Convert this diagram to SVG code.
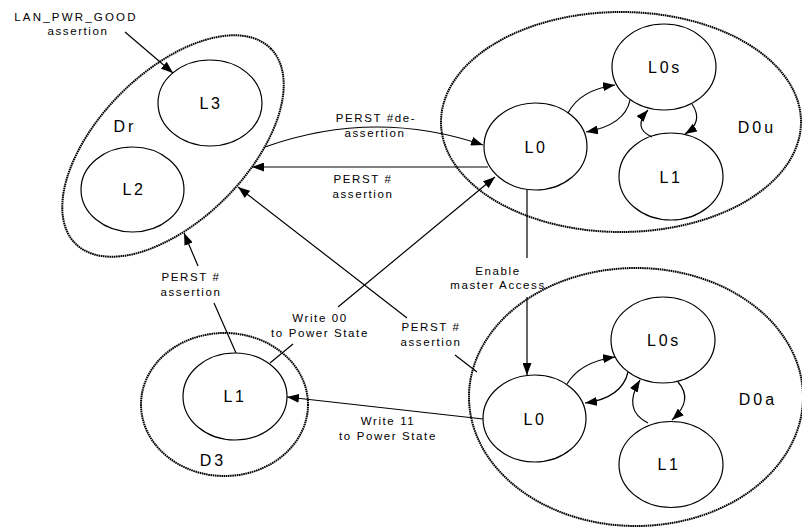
<svg xmlns="http://www.w3.org/2000/svg" width="802" height="527" viewBox="0 0 802 527">
<defs>
<marker id="ah" markerUnits="userSpaceOnUse" markerWidth="13" markerHeight="9" refX="12" refY="4.5" orient="auto">
<path d="M0,0 L12,4.5 L0,9 z" fill="#000"/>
</marker>
<style>
.st{fill:#fff;stroke:#000;stroke-width:1.2}
.grp{fill:none;stroke:#000;stroke-width:2;stroke-dasharray:1.6 0.6}
.c{fill:none;stroke:#000;stroke-width:1.2}
.a{marker-end:url(#ah)}
.nl{font-family:"Liberation Sans",Arial,sans-serif;font-size:16px;letter-spacing:2.7px;text-anchor:middle;fill:#000}
.gl{font-family:"Liberation Sans",Arial,sans-serif;font-size:16px;letter-spacing:3px;text-anchor:middle;fill:#000}
.lb{font-family:"Liberation Sans",Arial,sans-serif;font-size:11.5px;letter-spacing:1.6px;text-anchor:middle;fill:#000}
</style>
</defs>
<rect width="802" height="527" fill="#fff"/>

<g id="Dr">
<ellipse class="grp" cx="173" cy="146" rx="138" ry="74" transform="rotate(-45 173 146)"/>
<text class="gl" x="125" y="132">Dr</text>
</g>
<g id="Dr-L3">
<ellipse class="st" cx="210" cy="103" rx="52" ry="43"/>
<text class="nl" x="211" y="109">L3</text>
</g>
<g id="Dr-L2">
<ellipse class="st" cx="132.5" cy="189.5" rx="51.5" ry="42.5"/>
<text class="nl" x="134" y="195">L2</text>
</g>

<g id="D0u">
<ellipse class="grp" cx="621" cy="122" rx="180" ry="110"/>
<text class="gl" x="757" y="133">D0u</text>
</g>
<g id="D0u-L0">
<ellipse class="st" cx="535.5" cy="146.5" rx="51.5" ry="43.5"/>
<text class="nl" x="536" y="153">L0</text>
</g>
<g id="D0u-L0s">
<ellipse class="st" cx="664" cy="67" rx="52" ry="43"/>
<text class="nl" x="665" y="73">L0s</text>
</g>
<g id="D0u-L1">
<ellipse class="st" cx="671" cy="176.5" rx="52" ry="43.5"/>
<text class="nl" x="671" y="183">L1</text>
</g>

<g id="D0a">
<ellipse class="grp" cx="636" cy="397" rx="167" ry="129"/>
<text class="gl" x="758" y="405">D0a</text>
</g>
<g id="D0a-L0">
<ellipse class="st" cx="534.5" cy="418.5" rx="51.5" ry="43.5"/>
<text class="nl" x="535" y="425">L0</text>
</g>
<g id="D0a-L0s">
<ellipse class="st" cx="663" cy="340" rx="52" ry="43"/>
<text class="nl" x="664" y="346">L0s</text>
</g>
<g id="D0a-L1">
<ellipse class="st" cx="671" cy="464.5" rx="52" ry="43"/>
<text class="nl" x="669" y="470">L1</text>
</g>

<g id="D3">
<ellipse class="grp" cx="224.5" cy="404.5" rx="83.5" ry="71.5"/>
<text class="gl" x="213" y="466">D3</text>
</g>
<g id="D3-L1">
<ellipse class="st" cx="235" cy="396.5" rx="52" ry="43.5"/>
<text class="nl" x="235" y="402">L1</text>
</g>

<g id="connectors">
<path class="c a" d="M125 32 L173 73"/>
<path class="c a" d="M265 147 Q374 108 483 145"/>
<path class="c a" d="M488 167 L252 167"/>
<path class="c a" d="M527 190 V258 M527 297 V375"/>
<path class="c a" d="M477 372 L455 355 M407 318 L238 187"/>
<path class="c a" d="M236 353 L214 303 M198 266 L184 233"/>
<path class="c a" d="M270 363 L293 344 M338 307 L495 177"/>
<path class="c a" d="M483 419 L287 397"/>

<path class="c a" d="M568 113 Q580 90 615 85"/>
<path class="c a" d="M630 100 Q625 125 586 132"/>
<path class="c a" d="M652 137 Q632 128 648 110"/>
<path class="c a" d="M692 104 Q704 122 685 134"/>

<path class="c a" d="M567 384 Q580 362 615 357"/>
<path class="c a" d="M628 372 Q622 398 585 403"/>
<path class="c a" d="M648 423 Q622 410 640 380"/>
<path class="c a" d="M678 382 Q694 400 672 420"/>
</g>

<g id="labels">
<text class="lb" x="76" y="21" style="letter-spacing:2.2px">LAN_PWR_GOOD</text>
<text class="lb" x="78" y="35">assertion</text>
<text class="lb" x="376" y="122">PERST #de-</text>
<text class="lb" x="375" y="137">assertion</text>
<text class="lb" x="363" y="183">PERST #</text>
<text class="lb" x="363" y="198">assertion</text>
<text class="lb" x="498" y="275">Enable</text>
<text class="lb" x="498" y="289">master Access</text>
<text class="lb" x="191" y="281">PERST #</text>
<text class="lb" x="191" y="296">assertion</text>
<text class="lb" x="320" y="322">Write 00</text>
<text class="lb" x="320" y="337">to Power State</text>
<text class="lb" x="431" y="331">PERST #</text>
<text class="lb" x="431" y="346">assertion</text>
<text class="lb" x="388" y="425">Write 11</text>
<text class="lb" x="388" y="440">to Power State</text>
</g>
</svg>
